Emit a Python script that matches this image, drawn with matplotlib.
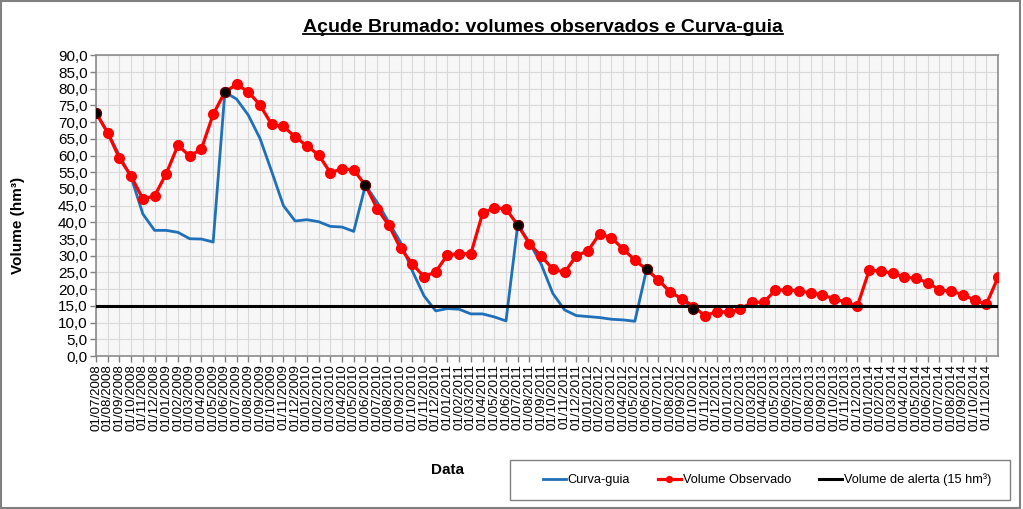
import numpy as np
import pandas as pd
import matplotlib
matplotlib.use("Agg")
import matplotlib.pyplot as plt
from matplotlib.lines import Line2D
from matplotlib.patches import Rectangle

plt.rcParams['font.family'] = ['Liberation Sans', 'DejaVu Sans']

# ---- data ----
datas = pd.date_range("2008-07-01", "2014-12-01", freq="MS")
rotulos = [d.strftime("%d/%m/%Y") for d in datas[:-1]]   # last month unlabeled

volume_observado = [
    72.8, 66.8, 59.2, 53.8, 47.0, 47.9, 54.6, 63.1, 59.8, 62.0, 72.3, 79.0,
    81.3, 79.1, 75.1, 69.3, 68.7, 65.6, 62.9, 60.2, 54.9, 56.0, 55.7, 51.1,
    44.1, 39.1, 32.2, 27.6, 23.7, 25.2, 30.3, 30.6, 30.6, 42.7, 44.4, 44.0,
    39.2, 33.6, 29.9, 26.0, 25.0, 30.0, 31.5, 36.6, 35.4, 32.0, 28.7, 25.9,
    22.8, 19.2, 17.2, 14.8, 12.0, 13.3, 13.1, 14.0, 16.1, 16.1, 19.7, 19.8,
    19.5, 18.9, 18.2, 17.2, 16.1, 15.0, 25.6, 25.5, 24.7, 23.6, 23.3, 21.9,
    19.8, 19.4, 18.4, 16.7, 15.5, 23.5,
]

curva_guia = [
    72.8, 66.8, 60.0, 53.5, 42.5, 37.6, 37.6, 37.0, 35.1, 35.0, 34.1, 79.0,
    76.9, 72.1, 65.1, 55.2, 45.0, 40.4, 40.8, 40.2, 38.8, 38.6, 37.3, 51.1,
    46.0, 40.0, 34.0, 25.5, 18.0, 13.5, 14.2, 14.0, 12.6, 12.6, 11.7, 10.5,
    39.2, 34.0, 27.5, 18.7, 13.8, 12.1, 11.8, 11.5, 11.0, 10.8, 10.4, 25.9,
    22.8, 19.2, 17.0, 14.0,
]

# starting points of each guide curve (month index, volume)
inicio_idx = [0, 11, 23, 36, 47, 51]
inicio_vol = [72.8, 79.0, 51.1, 39.2, 25.9, 14.0]

volume_alerta = 15.0

# ---- figure ----
fig = plt.figure(figsize=(10.23, 5.09), dpi=100)
fig.patch.set_facecolor('white')
ax = fig.add_axes([96/1023, 1-356/509, (998-96)/1023, (356-55.3)/509])
ax.set_facecolor('#F7F7F7')

x_obs = np.arange(len(volume_observado))
x_guia = np.arange(len(curva_guia))

ax.plot(x_guia, curva_guia, color='#1F70B8', lw=2.0, zorder=3, label='Curva-guia')
ax.plot(x_obs, volume_observado, color='#FF0000', lw=2.3, marker='o', ms=7,
        mfc='#FF0000', mec='#FF0000', zorder=4, label='Volume Observado')
ax.axhline(volume_alerta, color='black', lw=2.2, zorder=5,
           label='Volume de alerta (15 hm\u00b3)')
ax.plot(inicio_idx, inicio_vol, ls='none', marker='o', ms=7, mfc='black',
        mec='#5a0000', zorder=6)

ax.set_xlim(0, len(volume_observado) - 1)
ax.set_ylim(0, 90)
ax.set_yticks(np.arange(0, 90.1, 5))
ax.set_yticklabels([f"{v:.1f}".replace('.', ',') for v in np.arange(0, 90.1, 5)],
                   fontsize=11)
ax.set_xticks(np.arange(len(rotulos)))
ax.set_xticklabels(rotulos, rotation=90, fontsize=9.6)
ax.tick_params(axis='both', direction='out', length=4, color='#808080', width=1)
ax.tick_params(axis='x', pad=2)
ax.tick_params(axis='y', pad=2)

ax.grid(True, color='#D9D9D9', lw=0.8, zorder=0)
ax.set_axisbelow(True)
for s in ax.spines.values():
    s.set_color('#8C8C8C')
    s.set_linewidth(1.2)

# axis titles
fig.text(18/1023, 1-225/509, 'Volume (hm\u00b3)', rotation=90, fontsize=11,
         fontweight='bold', ha='center', va='center')
fig.text(447/1023, 1-470/509, 'Data', fontsize=11, fontweight='bold',
         ha='center', va='center')

# title with underline
t = fig.text(543/1023, 1-27/509, 'A\u00e7ude Brumado: volumes observados e Curva-guia',
             fontsize=14, fontweight='bold', ha='center', va='center')
fig.canvas.draw()
bb = t.get_window_extent(renderer=fig.canvas.get_renderer())
bbf = bb.transformed(fig.transFigure.inverted())
fig.add_artist(Line2D([bbf.x0, bbf.x1], [bbf.y0 + 0.002, bbf.y0 + 0.002],
                      transform=fig.transFigure, color='black', lw=1.3))

# legend box
fig.add_artist(Rectangle((510/1023, 1-500/509), 500/1023, 40/509,
                         transform=fig.transFigure, fill=False,
                         edgecolor='#808080', lw=1.0))
h, l = ax.get_legend_handles_labels()
leg = fig.legend(handles=h[:3], labels=l[:3],
                 loc='center', bbox_to_anchor=(767/1023, 1-480/509),
                 ncol=3, fontsize=9.2, frameon=False,
                 handlelength=1.8, handletextpad=0.15,
                 columnspacing=2.2, markerscale=0.6)

# chart border
fig.add_artist(Rectangle((0.001, 0.002), 0.996, 0.996, transform=fig.transFigure,
                         fill=False, edgecolor='#808080', lw=1.5))

fig.savefig('out.png', dpi=100)
